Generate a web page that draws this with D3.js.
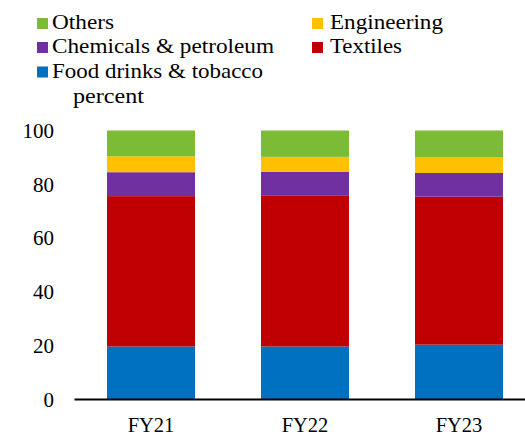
<!DOCTYPE html>
<html>
<head>
<meta charset="utf-8">
<script src="https://cdn.jsdelivr.net/npm/d3@7"></script>
<style>
  body { margin: 0; background: #fff; }
</style>
</head>
<body>
<div id="chart"></div>
<script>
// datos
const years = ['FY21', 'FY22', 'FY23'];
const food = [19.7, 19.7, 20.4];
const textiles = [55.9, 56.0, 55.0];
const chemicals = [8.9, 8.9, 8.8];
const engineering = [5.9, 5.6, 5.8];
const others = [9.6, 9.8, 10.0];
const yTicks = [0, 20, 40, 60, 80, 100];

const seriesNames = ['Food drinks & tobacco', 'Textiles', 'Chemicals & petroleum', 'Engineering', 'Others'];
const seriesValues = [food, textiles, chemicals, engineering, others];
const colors = ['#0070C0', '#C00000', '#7030A0', '#FFC000', '#7CBB36'];

const FONT = '"Liberation Serif"';
const W = 525, H = 435;
const margin = { top: 130, right: 0, bottom: 36, left: 74 };
const width = W - margin.left - margin.right;
const height = H - margin.top - margin.bottom;

const svg = d3.select('#chart').append('svg')
  .attr('width', W)
  .attr('height', H);

const g = svg.append('g')
  .attr('transform', `translate(${margin.left},${margin.top})`);

const rows = years.map((y, i) => {
  const r = { year: y };
  seriesNames.forEach((n, k) => r[n] = seriesValues[k][i]);
  return r;
});

const stack = d3.stack().keys(seriesNames)(rows);

const x = d3.scaleBand()
  .domain(years)
  .range([0, 462])
  .paddingInner(0.4286)
  .paddingOuter(0.2143);

const y = d3.scaleLinear()
  .domain([0, 100])
  .range([height + 0.5, 0.5]);

g.selectAll('g.layer')
  .data(stack)
  .enter().append('g')
  .attr('class', 'layer')
  .attr('fill', (d, i) => colors[i])
  .selectAll('rect')
  .data(d => d)
  .enter().append('rect')
  .attr('x', d => x(d.data.year))
  .attr('width', x.bandwidth())
  .attr('y', d => y(d[1]))
  .attr('height', d => y(d[0]) - y(d[1]));

// eje Y sin linea
const yAxis = g.append('g')
  .call(d3.axisLeft(y).tickValues(yTicks).tickSize(0).tickPadding(20));
yAxis.select('.domain').remove();
yAxis.selectAll('text')
  .attr('font-family', FONT)
  .attr('font-size', 21)
  .attr('fill', '#000');

// eje X
const xAxis = g.append('g')
  .attr('transform', `translate(0,${height})`)
  .call(d3.axisBottom(x).tickSize(0).tickPadding(18));
xAxis.select('.domain')
  .attr('stroke', '#000')
  .attr('stroke-width', 2);
xAxis.selectAll('text')
  .attr('font-family', FONT)
  .attr('font-size', 20.5)
  .attr('fill', '#000');

// leyenda (ancho ajustado al original)
const legendItems = [
  { name: 'Others', color: colors[4], x: 37, y: 29, w: 62 },
  { name: 'Engineering', color: colors[3], x: 312, y: 29, w: 113 },
  { name: 'Chemicals & petroleum', color: colors[2], x: 37, y: 53, w: 222 },
  { name: 'Textiles', color: colors[1], x: 312, y: 53, w: 72 },
  { name: 'Food drinks & tobacco', color: colors[0], x: 37, y: 77.5, w: 211 }
];

const legend = svg.append('g');
const li = legend.selectAll('g')
  .data(legendItems)
  .enter().append('g')
  .attr('transform', d => `translate(${d.x},${d.y})`);
li.append('rect')
  .attr('x', 0)
  .attr('y', -11)
  .attr('width', 11)
  .attr('height', 11)
  .attr('fill', d => d.color);
li.append('text')
  .attr('x', d => d.x > 100 ? 18 : 15)
  .attr('y', 0)
  .attr('font-family', FONT)
  .attr('font-size', 21)
  .attr('textLength', d => d.w)
  .attr('lengthAdjust', 'spacingAndGlyphs')
  .attr('fill', '#000')
  .text(d => d.name);

svg.append('text')
  .attr('x', 73)
  .attr('y', 103)
  .attr('font-family', FONT)
  .attr('font-size', 21)
  .attr('textLength', 71)
  .attr('lengthAdjust', 'spacingAndGlyphs')
  .attr('fill', '#000')
  .text('percent');
</script>
</body>
</html>
